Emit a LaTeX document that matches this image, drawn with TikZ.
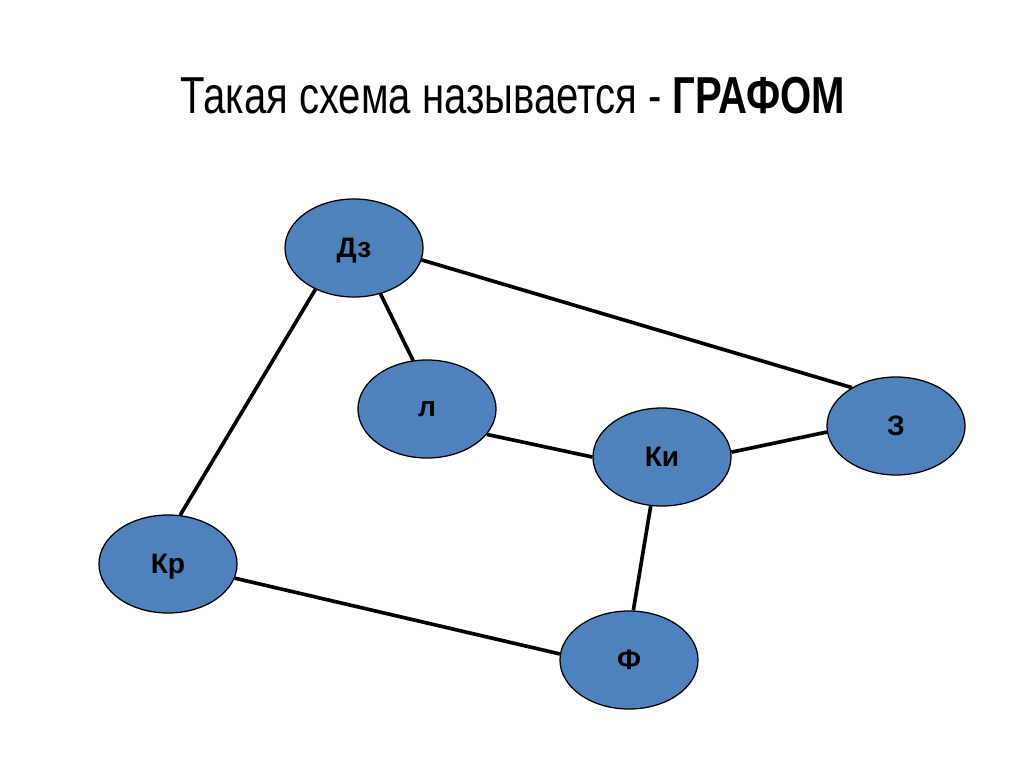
\documentclass[tikz,border=0pt]{standalone}
\usepackage{fontspec}
\setmainfont{Liberation Sans}
\usetikzlibrary{shapes.geometric}
\definecolor{nodeblue}{HTML}{4F81BD}
\begin{document}
\begin{tikzpicture}[x=0.025cm,y=-0.025cm]
      \useasboundingbox (0,0) rectangle (1024,767);

      \node (title) at (513,96) {\scalebox{0.77}[1]{\fontsize{37}{40}\selectfont Такая схема называется - \textbf{ГРАФОМ}}};

      \begin{scope}[every node/.style={ellipse,draw,line width=0.9pt,fill=nodeblue,
          minimum width=3.45cm,minimum height=2.45cm,inner sep=0pt,text depth=0pt,
          font=\fontsize{20}{22}\selectfont\bfseries}]
        \node (dz) at (354,248) {Дз};
        \node (l)  at (427,409) {л};
        \node (ki) at (662,457) {Ки};
        \node (z)  at (896,426) {З};
        \node (kr) at (168,564) {Кр};
        \node (f)  at (629,660) {Ф};
      \end{scope}

      \begin{scope}[every edge/.style={draw,line width=2.6pt}]
        \path (dz.-10)  edge (z.139);
        \path (dz.-60)  edge (l.106);
        \path (dz.-133) edge (kr.76);
        \path (l.-23)   edge (ki.180);
        \path (ki.4)    edge (z.185);
        \path (ki.-103) edge (f.85);
        \path (kr.-12)  edge (f.175);
      \end{scope}

    \end{tikzpicture}
\end{document}
